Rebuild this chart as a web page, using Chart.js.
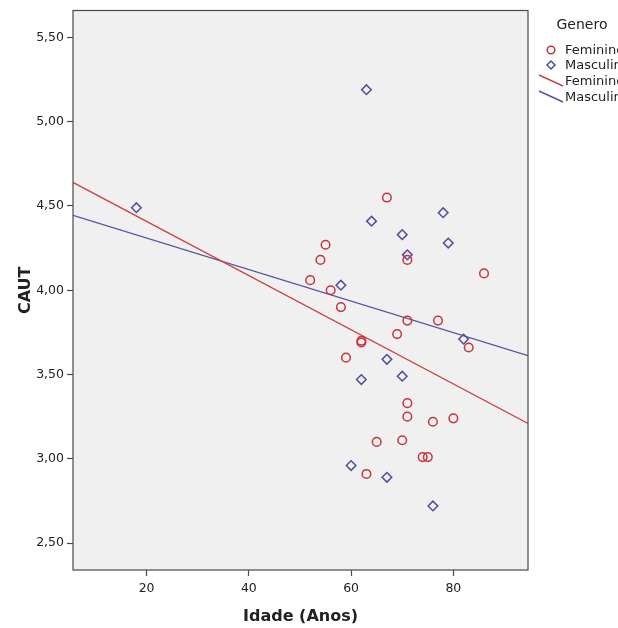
<!DOCTYPE html>
<html>
<head>
<meta charset="utf-8">
<script src="https://cdn.jsdelivr.net/npm/chart.js@4/dist/chart.umd.min.js"></script>
<style>
  html, body { margin: 0; padding: 0; background: #fff; }
  #wrap { width: 618px; height: 628px; }
</style>
</head>
<body>
<div id="wrap"><canvas id="scatter"></canvas></div>
<script>
// data
var femAge  = [67, 55, 54, 71, 86, 52, 56, 58, 71, 77, 69, 62, 62, 83, 59, 71, 71, 76, 80, 65, 70, 74, 75, 63];
var femCaut = [4.55, 4.27, 4.18, 4.18, 4.10, 4.06, 4.00, 3.90, 3.82, 3.82, 3.74, 3.70, 3.69, 3.66, 3.60, 3.33, 3.25, 3.22, 3.24, 3.10, 3.11, 3.01, 3.01, 2.91];

var mascAge  = [18, 63, 64, 78, 70, 79, 71, 58, 82, 67, 62, 70, 60, 67, 76];
var mascCaut = [4.49, 5.19, 4.41, 4.46, 4.33, 4.28, 4.21, 4.03, 3.71, 3.59, 3.47, 3.49, 2.96, 2.89, 2.72];

// fit lines (ends at the axis limits)
var fitAge     = [5.6, 94.6];
var fitFemCaut = [4.64, 3.21];
var fitMasCaut = [4.445, 3.612];

var xTicks = [20, 40, 60, 80];
var yTicks = [2.5, 3.0, 3.5, 4.0, 4.5, 5.0, 5.5];

var red  = 'rgb(200,52,56)';
var blue = 'rgb(78,80,156)';
var redLine  = 'rgb(204,70,70)';
var blueLine = 'rgb(84,84,160)';

function pts(xs, ys) {
    return xs.map(function (x, i) { return {x: x, y: ys[i]}; });
}

var plotBox = {
    id: 'plotBox',
    beforeDraw: function (chart) {
        var a = chart.chartArea, ctx = chart.ctx;
        ctx.save();
        ctx.fillStyle = '#f0f0f0';
        ctx.fillRect(a.left, a.top, a.right - a.left, a.bottom - a.top);
        ctx.restore();
    },
    afterDraw: function (chart) {
        var a = chart.chartArea, ctx = chart.ctx;
        ctx.save();
        ctx.strokeStyle = '#4a4a4a';
        ctx.lineWidth = 1.2;
        ctx.strokeRect(a.left, a.top, a.right - a.left, a.bottom - a.top);

        // legend
        ctx.fillStyle = '#222';
        ctx.font = '14px "DejaVu Sans"';
        ctx.textAlign = 'center';
        ctx.textBaseline = 'middle';
        ctx.fillText('Genero', 582, 25);

        ctx.font = '13px "DejaVu Sans"';
        ctx.textAlign = 'left';
        var ds = chart.data.datasets;
        var rows = [50, 65, 81, 97];
        ds.forEach(function (d, i) {
            var y = rows[i];
            ctx.lineWidth = 1.5;
            ctx.strokeStyle = d.borderColor;
            if (d.type === 'line') {
                ctx.beginPath();
                ctx.moveTo(539, y - 6);
                ctx.lineTo(563, y + 5);
                ctx.stroke();
            } else if (d.pointStyle === 'rectRot') {
                ctx.beginPath();
                ctx.moveTo(551, y - 4);
                ctx.lineTo(555, y);
                ctx.lineTo(551, y + 4);
                ctx.lineTo(547, y);
                ctx.closePath();
                ctx.stroke();
            } else {
                ctx.beginPath();
                ctx.arc(551, y, 3.8, 0, Math.PI * 2);
                ctx.stroke();
            }
            ctx.fillStyle = '#222';
            ctx.fillText(d.label, 565, y + 1);
        });
        ctx.restore();
    }
};

new Chart(document.getElementById('scatter'), {
    type: 'scatter',
    data: {
        datasets: [
            {
                label: 'Feminino',
                data: pts(femAge, femCaut),
                pointStyle: 'circle',
                pointRadius: 4.3,
                borderWidth: 1.5,
                borderColor: red,
                backgroundColor: 'rgba(0,0,0,0)',
                order: 1
            },
            {
                label: 'Masculino',
                data: pts(mascAge, mascCaut),
                pointStyle: 'rectRot',
                pointRadius: 4.8,
                borderWidth: 1.5,
                borderColor: blue,
                backgroundColor: 'rgba(0,0,0,0)',
                order: 1
            },
            {
                type: 'line',
                label: 'Feminino',
                data: pts(fitAge, fitFemCaut),
                borderColor: redLine,
                borderWidth: 1.3,
                pointRadius: 0,
                fill: false,
                order: 2
            },
            {
                type: 'line',
                label: 'Masculino',
                data: pts(fitAge, fitMasCaut),
                borderColor: blueLine,
                borderWidth: 1.3,
                pointRadius: 0,
                fill: false,
                order: 2
            }
        ]
    },
    options: {
        responsive: true,
        maintainAspectRatio: false,
        animation: false,
        layout: { padding: { left: 0, right: 90, top: 10, bottom: 0 } },
        plugins: {
            legend: { display: false },
            tooltip: { enabled: false }
        },
        scales: {
            x: {
                type: 'linear',
                min: 5.6,
                max: 94.6,
                afterBuildTicks: function (s) { s.ticks = xTicks.map(function (v) { return {value: v}; }); },
                afterFit: function (s) { s.height = 58; },
                grid: { drawOnChartArea: false, drawTicks: true, tickLength: 6, tickColor: '#4a4a4a', tickWidth: 1.2 },
                border: { display: false },
                ticks: { color: '#222', font: { family: 'DejaVu Sans', size: 12.5 }, padding: 5, maxRotation: 0 },
                title: { display: true, text: 'Idade (Anos)', color: '#222', font: { family: 'DejaVu Sans', size: 16, weight: 'bold' }, padding: { top: 0, bottom: 2 } }
            },
            y: {
                type: 'linear',
                min: 2.34,
                max: 5.66,
                afterBuildTicks: function (s) { s.ticks = yTicks.map(function (v) { return {value: v}; }); },
                afterFit: function (s) { s.width = 73; },
                grid: { drawOnChartArea: false, drawTicks: true, tickLength: 6, tickColor: '#4a4a4a', tickWidth: 1.2 },
                border: { display: false },
                ticks: {
                    color: '#222',
                    font: { family: 'DejaVu Sans', size: 12.5 },
                    padding: 3,
                    callback: function (v) { return v.toFixed(2).replace('.', ','); }
                },
                title: { display: true, text: 'CAUT', color: '#222', font: { family: 'DejaVu Sans', size: 16, weight: 'bold' }, padding: { top: 16, bottom: 0 } }
            }
        }
    },
    plugins: [plotBox]
});
</script>
</body>
</html>
